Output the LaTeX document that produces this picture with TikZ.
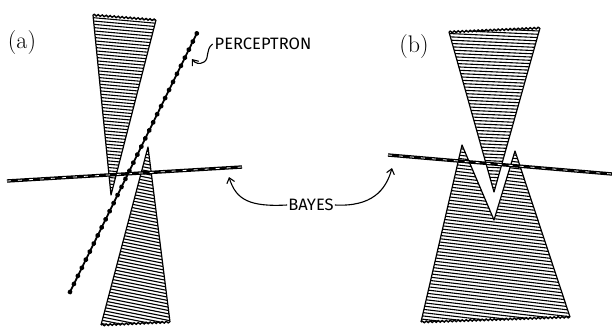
\documentclass[tikz,border=0pt]{standalone}
\usepackage{fontspec}
\newfontfamily\handfont{Fira Sans}
\usetikzlibrary{decorations.pathmorphing,decorations.markings,arrows.meta}
\begin{document}
\begin{tikzpicture}[x=1pt,y=-1pt,
  hatch/.style={line width=1.1pt,black},
  outline/.style={line width=1.2pt,black,line join=round},
  wavy/.style={line width=1.4pt,decorate,decoration={snake,amplitude=0.8pt,segment length=4pt}},
  bayesbase/.style={line width=3.4pt,black},
  bayesdash/.style={line width=0.8pt,white,dash pattern=on 4pt off 7pt},
  percline/.style={line width=1.8pt,black,postaction={decorate},
    decoration={markings,mark=between positions 0 and 1 step 9pt with {\fill (0,0) circle (2.4pt);}}},
  pointer/.style={line width=1.1pt,-{Straight Barb[length=5pt,width=8pt]}},
  handtext/.style={font=\handfont\fontsize{16.5}{16.5}\selectfont,inner sep=1pt},
  panellabel/.style={font=\fontsize{24}{24}\selectfont,inner sep=1pt}]
\useasboundingbox (0,0) rectangle (612,327);

% ---------- panel (a) ----------
\node[panellabel] (la) at (22,43) {(a)};
% upper cone
\begin{scope}
  \clip (93,15) -- (156,20) -- (111,195) -- cycle;
  \foreach \y in {0,3.3,...,200} \draw[hatch] (80,\y) -- (170,\y+8);
\end{scope}
\draw[outline] (156,20) -- (111,195) -- (93,15);
\draw[wavy] (93,15) -- (156,20);
% lower cone
\begin{scope}
  \clip (148,147) -- (170,322) -- (101,325) -- cycle;
  \foreach \y in {110,113.3,...,330} \draw[hatch] (90,\y) -- (180,\y+18);
\end{scope}
\draw[outline] (101,325) -- (148,147) -- (170,322);
\draw[wavy] (101,325) -- (170,322);
% Bayes line (a)
\coordinate (ba1) at (7,181);
\coordinate (ba2) at (242,167);
\draw[bayesbase] (ba1) -- (ba2);
\draw[bayesdash] (ba1) -- (ba2);
% perceptron line
\coordinate (p1) at (70,292);
\coordinate (p2) at (197,33);
\draw[percline] (p1) -- (p2);

% ---------- panel (b) ----------
\node[panellabel] (lb) at (414,47) {(b)};
\begin{scope}
  \clip (449,32) -- (540,28) -- (494,192) -- cycle;
  \foreach \y in {10,13.3,...,200} \draw[hatch] (440,\y) -- (550,\y+5);
\end{scope}
\draw[outline] (540,28) -- (494,192) -- (449,32);
\draw[wavy] (449,32) -- (540,28);
\begin{scope}
  \clip (421,322) -- (462,145) -- (494,220) -- (515,151) -- (570,317) -- cycle;
  \foreach \y in {90,93.3,...,330} \draw[hatch] (410,\y) -- (580,\y+20);
\end{scope}
\draw[outline] (421,322) -- (462,145) -- (494,220) -- (515,151) -- (570,317);
\draw[wavy] (421,322) -- (570,317);
% Bayes line (b)
\coordinate (bb1) at (388,155);
\coordinate (bb2) at (612,174);
\draw[bayesbase] (bb1) -- (bb2);
\draw[bayesdash] (bb1) -- (bb2);

% ---------- labels ----------
\node[handtext] (perc) at (263,44) {PERCEPTRON};
\node[handtext] (bayes) at (311,205) {BAYES};
\coordinate (pt) at (192,59);
\draw[pointer] ([xshift=-1pt]perc.west) .. controls (205,50) and (210,58) .. (204,62)
   .. controls (199,65) and (195,63) .. (pt);
\coordinate (bta) at (229,177);
\coordinate (btb) at (392,168);
\draw[pointer] (bayes.west) .. controls (250,207) and (236,200) .. (bta);
\draw[pointer] (bayes.east) .. controls (372,207) and (386,190) .. (btb);
\end{tikzpicture}
\end{document}
